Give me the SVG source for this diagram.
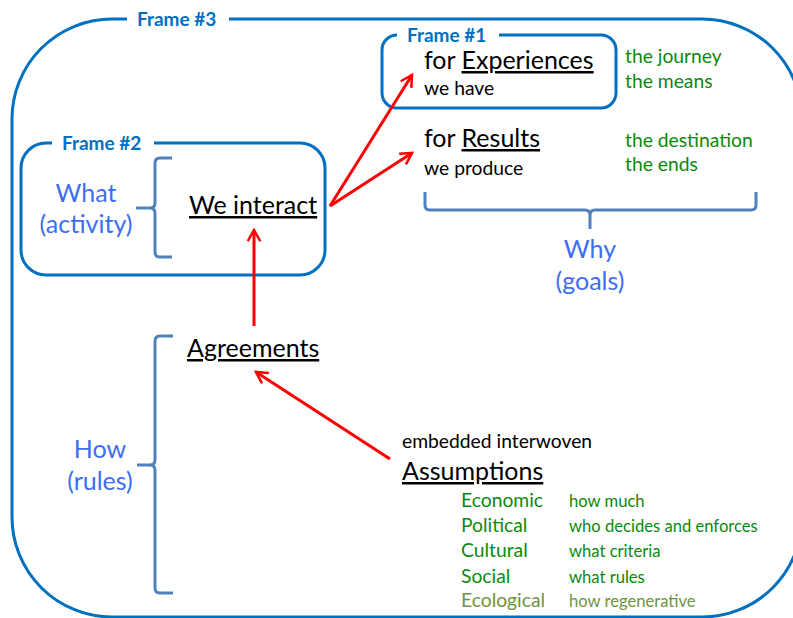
<svg xmlns="http://www.w3.org/2000/svg" width="793" height="618" viewBox="0 0 793 618">
<style>
text{font-family:Lato,"Open Sans","Liberation Sans",sans-serif}
.frame{fill:none;stroke:#0070C0;stroke-width:3}
.flabel{fill:#0070C0;font-weight:bold;font-size:19px}
.big{fill:#000;font-size:25px}
.small{fill:#000;font-size:19.3px}
.blue{fill:#3D6EF2;font-size:25px;text-anchor:middle}
.green{fill:#0A8A0A;font-size:19.3px}
.green2{fill:#0A8A0A;font-size:16.6px}
.olive{fill:#6E9440}
.brace{fill:none;stroke:#4F81BD;stroke-width:3;stroke-linejoin:round}
.arrow{fill:none;stroke:#FF0000;stroke-width:3}
.u{text-decoration:underline}
</style>
<defs>
<marker id="ah" viewBox="0 0 12 12" refX="10" refY="6" markerWidth="5" markerHeight="5" orient="auto" markerUnits="strokeWidth">
<path d="M1,1 L10,6 L1,11" fill="none" stroke="#FF0000" stroke-width="2"/>
</marker>
</defs>
<g id="frame3">
<rect class="frame" x="12" y="19" width="790" height="598" rx="100" ry="100"/>
<rect x="127" y="8" width="102" height="22" fill="#fff"/>
<text class="flabel" x="137" y="26">Frame #3</text>
</g>
<g id="frame2">
<rect class="frame" x="21" y="143" width="304" height="132" rx="25" ry="25"/>
<rect x="52" y="132" width="102" height="22" fill="#fff"/>
<text class="flabel" x="62" y="150">Frame #2</text>
<text class="blue" x="86" y="202">What</text>
<text class="blue" x="86" y="233">(activity)</text>
<path class="brace" d="M172,158 L160,158 Q155,158 155,163 L155,203 Q155,208 150,208 L136,208 M150,208 Q155,208 155,213 L155,252 Q155,257 160,257 L172,257"/>
</g>
<g id="we-interact">
<text class="big" x="189" y="214"><tspan class="u">We interact</tspan></text>
</g>
<g id="frame1">
<rect class="frame" x="382" y="35" width="234" height="73" rx="15" ry="15"/>
<rect x="397" y="24" width="102" height="22" fill="#fff"/>
<text class="flabel" x="407" y="42">Frame #1</text>
<text class="big" x="424" y="69">for <tspan class="u">Experiences</tspan></text>
<text class="small" x="424" y="95">we have</text>
</g>
<g id="journey">
<text class="green" x="625" y="63">the journey</text>
<text class="green" x="625" y="88">the means</text>
</g>
<g id="results">
<text class="big" x="424" y="147">for <tspan class="u">Results</tspan></text>
<text class="small" x="424" y="175">we produce</text>
</g>
<g id="destination">
<text class="green" x="625" y="147">the destination</text>
<text class="green" x="625" y="171">the ends</text>
</g>
<g id="why">
<path class="brace" d="M425,192 L425,205 Q425,210 430,210 L585,210 Q590,210 590,215 L590,229 M590,215 Q590,210 595,210 L751,210 Q756,210 756,205 L756,192"/>
<text class="blue" x="590" y="258">Why</text>
<text class="blue" x="590" y="290">(goals)</text>
</g>
<g id="agreements">
<text class="big" x="187" y="357"><tspan class="u">Agreements</tspan></text>
</g>
<g id="how">
<path class="brace" d="M173,336 L160,336 Q155,336 155,341 L155,460 Q155,465 150,465 L137,465 M150,465 Q155,465 155,470 L155,588 Q155,593 160,593 L173,593"/>
<text class="blue" x="100" y="458">How</text>
<text class="blue" x="100" y="490">(rules)</text>
</g>
<g id="assumptions">
<text class="small" x="402" y="448">embedded interwoven</text>
<text class="big" x="402" y="480"><tspan class="u">Assumptions</tspan></text>
<text class="green" x="461" y="507">Economic</text>
<text class="green" x="461" y="532">Political</text>
<text class="green" x="461" y="557">Cultural</text>
<text class="green" x="461" y="583">Social</text>
<text class="green olive" x="461" y="607">Ecological</text>
<text class="green2" x="569" y="507">how much</text>
<text class="green2" x="569" y="532">who decides and enforces</text>
<text class="green2" x="569" y="557">what criteria</text>
<text class="green2" x="569" y="583">what rules</text>
<text class="green2 olive" x="569" y="607">how regenerative</text>
</g>
<g id="connectors">
<line class="arrow" x1="254" y1="326" x2="254" y2="230" marker-end="url(#ah)"/>
<path class="arrow" d="M330,206 L412,75" marker-end="url(#ah)"/>
<path class="arrow" d="M330,206 L412,153" marker-end="url(#ah)"/>
<line class="arrow" x1="390" y1="459" x2="256" y2="372" marker-end="url(#ah)"/>
</g>
</svg>
